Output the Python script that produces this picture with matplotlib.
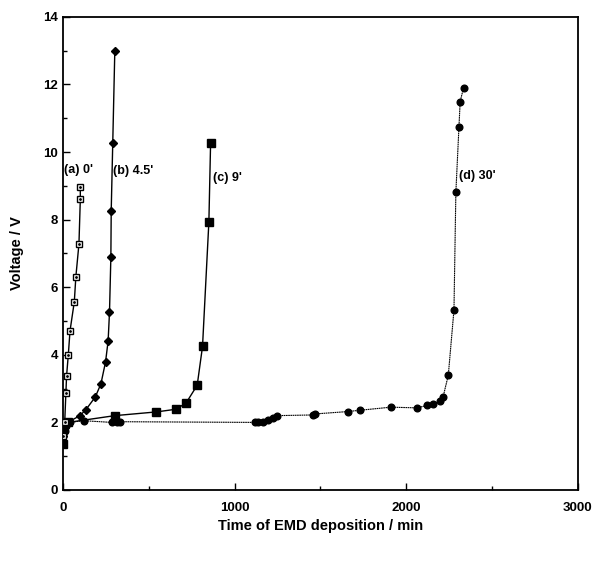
import matplotlib
matplotlib.use("Agg")
import matplotlib.pyplot as plt
from matplotlib.ticker import MultipleLocator

# Curve (a) 0'
a_t = [0, 10, 17, 21, 31, 41, 66, 75, 93, 101, 101]
a_v = [1.6, 2.0, 2.88, 3.38, 4.0, 4.71, 5.57, 6.31, 7.28, 8.6, 8.96]

# Curve (b) 4.5'
b_t = [0, 20, 99, 134, 188, 221, 248, 263, 271, 279, 281, 290, 302]
b_v = [1.6, 1.98, 2.2, 2.38, 2.75, 3.14, 3.79, 4.41, 5.26, 6.9, 8.26, 10.28, 13.0]

# Curve (c) 9'
c_t = [0, 30, 302, 544, 660, 718, 782, 813, 850, 860]
c_v = [1.35, 2.0, 2.2, 2.31, 2.39, 2.58, 3.10, 4.25, 7.93, 10.26]

# Curve (d) 30'
d_t = [0, 10, 20, 40, 120, 283, 312, 331, 1116, 1135, 1164, 1193, 1222, 1245,
       1454, 1468, 1658, 1731, 1910, 2064, 2119, 2157, 2196, 2214, 2245,
       2278, 2289, 2307, 2314, 2334]
d_v = [1.6, 1.75, 1.9, 2.0, 2.05, 2.0, 2.0, 2.02, 2.0, 2.0, 2.02, 2.07, 2.12, 2.2,
       2.22, 2.25, 2.32, 2.36, 2.45, 2.43, 2.5, 2.54, 2.63, 2.74, 3.4,
       5.33, 8.81, 10.74, 11.49, 11.91]

labels = ["(a) 0'", "(b) 4.5'", "(c) 9'", "(d) 30'"]
label_pos = [(5, 9.47), (290, 9.45), (872, 9.23), (2307, 9.29)]

plt.rcParams['font.family'] = ['Liberation Sans', 'DejaVu Sans']
fig = plt.figure(figsize=(5.97, 5.63), dpi=100)
ax = fig.add_axes([0.1055, 0.1297, 0.8625, 0.8403])

ax.plot(d_t, d_v, color='black', lw=0.8, ls=(0, (1.5, 0.5)), marker='o',
        ms=4.8, mfc='black', mec='black', zorder=2)
ax.plot(c_t, c_v, color='black', lw=1.0, marker='s', ms=5.2,
        mfc='black', mec='black', zorder=3)
ax.plot(b_t, b_v, color='black', lw=1.0, marker='D', ms=4.4,
        mfc='black', mec='black', zorder=3)
ax.plot(a_t, a_v, color='black', lw=1.0, marker='s', ms=5,
        mfc='white', mec='black', mew=1.0, zorder=4)
ax.plot(a_t, a_v, ls='none', marker='.', ms=2, color='black', zorder=5)

for lab, (x, y) in zip(labels, label_pos):
    ax.text(x, y, lab, fontsize=9, fontweight='bold', ha='left', va='center')

ax.set_xlim(0, 3000)
ax.set_ylim(0, 14)
ax.xaxis.set_major_locator(MultipleLocator(1000))
ax.xaxis.set_minor_locator(MultipleLocator(500))
ax.yaxis.set_major_locator(MultipleLocator(2))
ax.yaxis.set_minor_locator(MultipleLocator(1))
ax.tick_params(which='both', direction='in', labelsize=9.5, width=1.0)
ax.tick_params(which='major', length=5)
ax.tick_params(which='minor', length=3)
ax.tick_params(axis='x', pad=9)
for lbl in ax.get_xticklabels() + ax.get_yticklabels():
    lbl.set_fontweight('bold')
for s in ax.spines.values():
    s.set_linewidth(1.3)

ax.set_xlabel('Time of EMD deposition / min', fontsize=10.5, fontweight='bold', labelpad=3)
ax.set_ylabel('Voltage / V', fontsize=10.5, fontweight='bold', labelpad=14)

fig.savefig('out.png', dpi=100)
